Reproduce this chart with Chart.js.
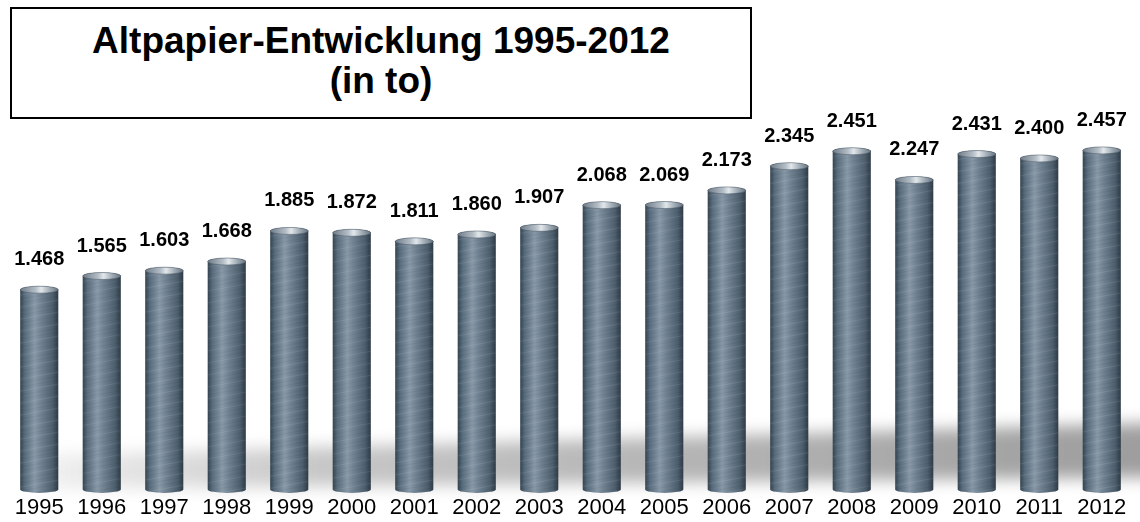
<!DOCTYPE html>
<html lang="de">
<head>
<meta charset="utf-8">
<title>Altpapier-Entwicklung 1995-2012</title>
<script src="https://cdn.jsdelivr.net/npm/chart.js@4/dist/chart.umd.min.js"></script>
<style>
  html, body { margin:0; padding:0; background:#fff; }
  #wrap { position:relative; width:1140px; height:522px; }
  #chart { position:absolute; left:0; top:0; }
  #title {
    position:absolute; left:10px; top:7px; width:742px; height:112px;
    box-sizing:border-box; border:2px solid #000; background:#fff;
    font:bold 37px "Liberation Sans", Arial, sans-serif; line-height:40px;
    text-align:center; padding-top:12px; color:#000;
  }
</style>
</head>
<body>
<div id="wrap">
  <canvas id="chart" width="1140" height="522"></canvas>
  <div id="title">Altpapier-Entwicklung 1995-2012<br>(in to)</div>
</div>
<script>
const years = ['1995','1996','1997','1998','1999','2000','2001','2002','2003',
               '2004','2005','2006','2007','2008','2009','2010','2011','2012'];
const tonnage = [1468, 1565, 1603, 1668, 1885, 1872, 1811, 1860, 1907,
                 2068, 2069, 2173, 2345, 2451, 2247, 2431, 2400, 2457];

const FONT = '"Liberation Sans", Arial, sans-serif';

// 1468 -> "1.468"
const fmt = v => String(v).replace(/\B(?=(\d{3})+(?!\d))/g, '.');

// soft grey floor shadow behind the columns
const floorShadow = {
  id:'floorShadow',
  beforeDatasetsDraw(chart){
    const {ctx, chartArea:a} = chart;
    const b = a.bottom;
    ctx.save();
    ctx.filter = 'blur(8px)';
    const g = ctx.createLinearGradient(a.left + 40, 0, a.right, 0);
    g.addColorStop(0, 'rgba(0,0,0,0.06)');
    g.addColorStop(0.25, 'rgba(0,0,0,0.22)');
    g.addColorStop(1, 'rgba(0,0,0,0.38)');
    ctx.fillStyle = g;
    ctx.beginPath();
    ctx.moveTo(a.left + 40, b - 38);
    ctx.lineTo(a.right + 30, b - 70);
    ctx.lineTo(a.right + 30, b - 16);
    ctx.lineTo(a.left + 40, b - 4);
    ctx.closePath();
    ctx.fill();
    ctx.restore();
  }
};

// cylinders with caps, drawn over the (transparent) bar elements
const cylinders = {
  id:'cylinders',
  afterDatasetsDraw(chart){
    const ctx = chart.ctx;
    const meta = chart.getDatasetMeta(0);
    meta.data.forEach((bar, i) => {
      const {x, y, base, width} = bar.getProps(['x','y','base','width'], true);
      const l = x - width/2, r = x + width/2, rx = width/2, ry = 3.5;

      const body = ctx.createLinearGradient(l, 0, r, 0);
      body.addColorStop(0, '#34434f');
      body.addColorStop(0.12, '#586c7d');
      body.addColorStop(0.38, '#8898a7');
      body.addColorStop(0.55, '#708292');
      body.addColorStop(0.85, '#4d5e6d');
      body.addColorStop(1, '#2f3b47');

      ctx.save();
      ctx.beginPath();
      ctx.moveTo(l, y + ry);
      ctx.lineTo(l, base - ry);
      ctx.ellipse(x, base - ry, rx, ry, 0, Math.PI, 0, true);
      ctx.lineTo(r, y + ry);
      ctx.ellipse(x, y + ry, rx, ry, 0, 0, Math.PI, true);
      ctx.closePath();
      ctx.fillStyle = body;
      ctx.fill();

      // brushed streaks
      ctx.clip();
      ctx.lineWidth = 1.2;
      for (let k = y - 10, n = 0; k < base + 10; k += 4, n++) {
        ctx.strokeStyle = n % 3 === 0 ? 'rgba(255,255,255,0.08)' : 'rgba(0,0,0,0.04)';
        ctx.beginPath();
        ctx.moveTo(l, k + 7);
        ctx.lineTo(r, k);
        ctx.stroke();
      }
      ctx.restore();

      // top cap
      const cap = ctx.createLinearGradient(l, 0, r, 0);
      cap.addColorStop(0, '#6f7c88');
      cap.addColorStop(0.4, '#b3bdc6');
      cap.addColorStop(0.55, '#e2e7eb');
      cap.addColorStop(0.75, '#a6b1ba');
      cap.addColorStop(1, '#66737f');
      ctx.save();
      ctx.beginPath();
      ctx.ellipse(x, y + ry, rx, ry, 0, 0, Math.PI * 2);
      ctx.fillStyle = cap;
      ctx.fill();
      ctx.lineWidth = 0.8;
      ctx.strokeStyle = 'rgba(70,82,94,0.6)';
      ctx.stroke();
      ctx.restore();

      // value label
      ctx.save();
      ctx.font = 'bold 20px ' + FONT;
      ctx.fillStyle = '#000';
      ctx.textAlign = 'center';
      ctx.textBaseline = 'alphabetic';
      ctx.fillText(fmt(tonnage[i]), x, y - 21);
      ctx.restore();
    });
  }
};

new Chart(document.getElementById('chart').getContext('2d'), {
  type:'bar',
  data:{
    labels: years,
    datasets:[{
      label:'Altpapier (to)',
      data: tonnage,
      backgroundColor:'rgba(0,0,0,0)',
      borderWidth:0,
      barPercentage:0.61,
      categoryPercentage:1
    }]
  },
  options:{
    responsive:false, animation:false,
    layout:{ padding:{ left:8, right:7, top:0, bottom:0 } },
    plugins:{ legend:{display:false}, tooltip:{enabled:false}, title:{display:false} },
    scales:{
      x:{
        grid:{display:false, drawTicks:false}, border:{display:false},
        ticks:{ color:'#000', padding:3, font:{ family:FONT, size:22, lineHeight:1.05 } }
      },
      y:{ display:false, min:0, max:3500 }
    }
  },
  plugins:[floorShadow, cylinders]
});
</script>
</body>
</html>
